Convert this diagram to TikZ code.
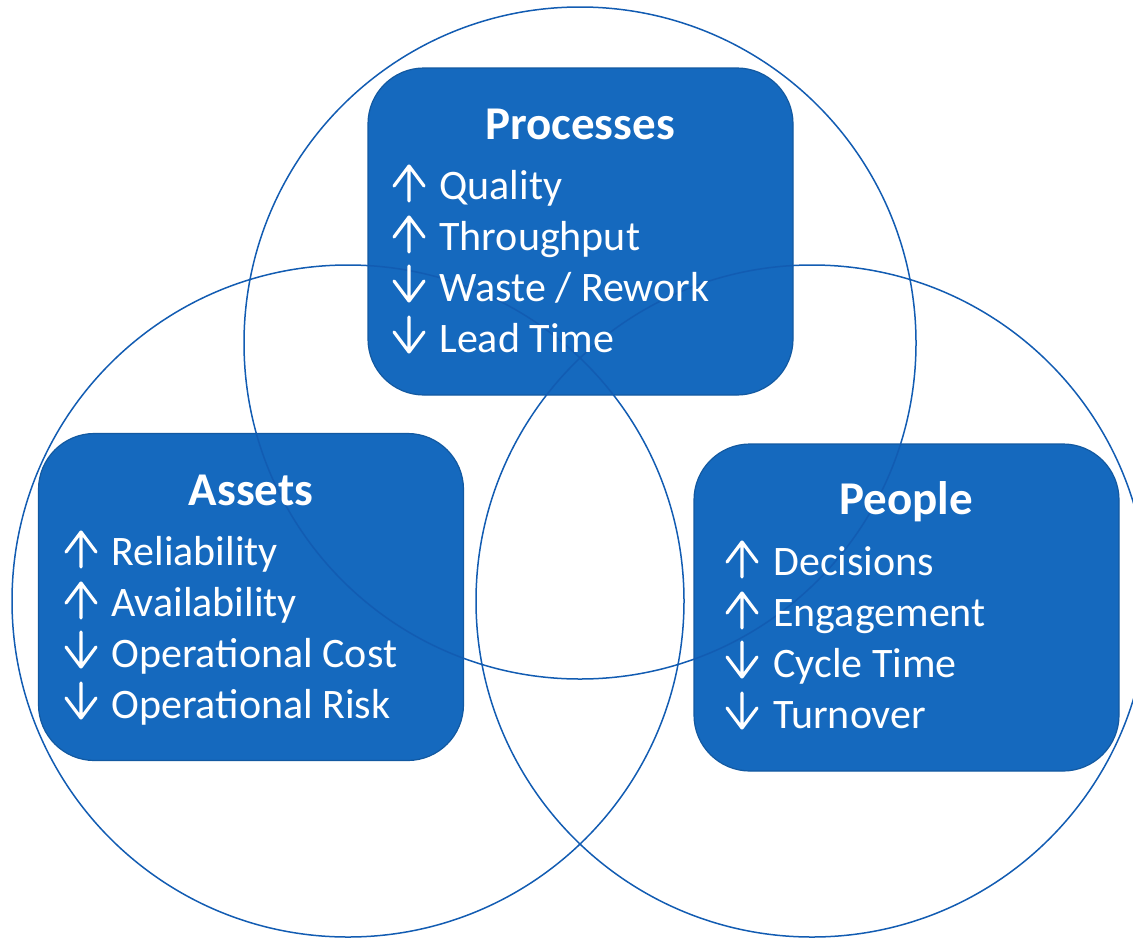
\documentclass[tikz,border=0pt]{standalone}
\usepackage{fontspec}
\setmainfont{Carlito}
\usetikzlibrary{positioning}
\definecolor{boxblue}{RGB}{21,105,190}
\definecolor{ringblue}{RGB}{18,92,178}

\begin{document}
\begin{tikzpicture}[x=0.5pt,y=-0.5pt,
    box/.style={draw=boxblue!85!black, line width=0.6pt, fill=boxblue,
      rounded corners=28pt, minimum width=212.5pt, minimum height=163.5pt, inner sep=0pt},
    ring/.style={draw=ringblue, line width=0.75pt},
    head/.style={text=white, font=\bfseries\fontsize{23.5}{28}\selectfont, anchor=base, inner sep=0pt},
    item/.style={text=white, font=\fontsize{21}{25}\selectfont, anchor=base west, inner sep=0pt},
    mark line/.style={draw=white, line width=1.6pt, line cap=round, line join=round},
    incr/.pic={\draw[mark line] (0,2) -- (0,-33) (-15,-13) -- (0,-33) -- (15,-13);},
    decr/.pic={\draw[mark line] (0,-35) -- (0,0) (-15,-20) -- (0,0) -- (15,-20);}]
    \useasboundingbox (0,0) rectangle (1133,937);
    \clip (0,0) rectangle (1133,937);
    % boxes
    \node[box] (proc) at (580.5,231.5) {};
    \node[box] (asset) at (251,597) {};
    \node[box] (people) at (906.5,607.5) {};
    % rings
    \draw[ring] (580,343) circle[radius=168pt];
    \draw[ring] (348,601) circle[radius=168pt];
    \draw[ring] (812,601) circle[radius=168pt];
    % processes
    \node[head] (proct) at (580,139) {Processes};
    \foreach \dir/\txt [count=\i] in {incr/Quality, incr/Throughput, decr/{Waste / Rework}, decr/Lead Time} {
      \pic at (409,148+51*\i) {\dir};
      \node[item] (proc\i) at (439,148+51*\i) {\txt};
    }
    % assets
    \node[head] (assett) at (251,505) {Assets};
    \foreach \dir/\txt [count=\i] in {incr/Reliability, incr/Availability, decr/Operational Cost, decr/Operational Risk} {
      \pic at (81,514+51*\i) {\dir};
      \node[item] (asset\i) at (111,514+51*\i) {\txt};
    }
    % people
    \node[head] (peoplet) at (906,514) {People};
    \foreach \dir/\txt [count=\i] in {incr/Decisions, incr/Engagement, decr/Cycle Time, decr/Turnover} {
      \pic at (742,524+51*\i) {\dir};
      \node[item] (people\i) at (773,524+51*\i) {\txt};
    }
\end{tikzpicture}
\end{document}
